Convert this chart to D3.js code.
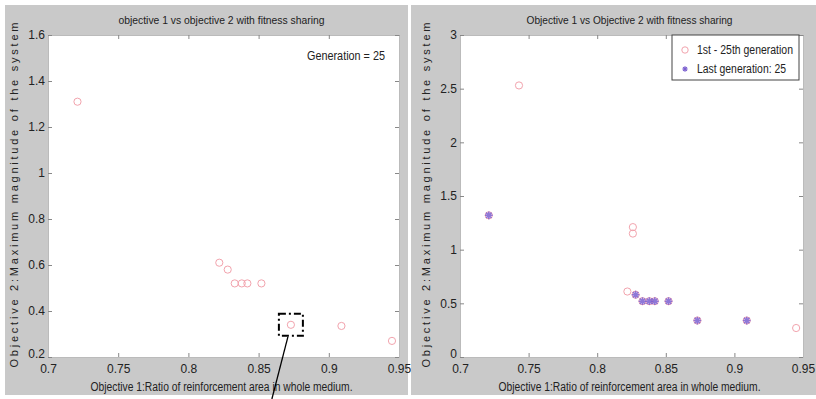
<!DOCTYPE html>
<html>
<head>
<meta charset="utf-8">
<script src="https://cdn.jsdelivr.net/npm/d3@7"></script>
<style>
  html, body { margin: 0; padding: 0; background: #fff; }
  svg { display: block; }
  text { font-family: "Liberation Sans", Arial, sans-serif; fill: #222; }
</style>
</head>
<body>
<svg id="chart" width="816" height="399"></svg>
<script>
// Population of generation 25 (objective 1, objective 2)
const genX = [0.721, 0.822, 0.828, 0.833, 0.838, 0.842, 0.852, 0.873, 0.909, 0.945];
const genY = [1.31, 0.61, 0.58, 0.52, 0.52, 0.52, 0.52, 0.34, 0.335, 0.27];

// All individuals from the 1st to the 25th generation
const allX = [0.721, 0.743, 0.826, 0.826, 0.822, 0.828, 0.833, 0.838, 0.842, 0.852, 0.873, 0.909, 0.945];
const allY = [1.32, 2.53, 1.21, 1.15, 0.61, 0.58, 0.52, 0.52, 0.52, 0.52, 0.34, 0.34, 0.27];

// Last generation
const lastX = [0.721, 0.828, 0.833, 0.838, 0.842, 0.852, 0.873, 0.909];
const lastY = [1.32, 0.58, 0.52, 0.52, 0.52, 0.52, 0.34, 0.34];

const xTicks = [0.7, 0.75, 0.8, 0.85, 0.9, 0.95];
const yTicksLeft = [0.2, 0.4, 0.6, 0.8, 1, 1.2, 1.4, 1.6];
const yTicksRight = [0, 0.5, 1, 1.5, 2, 2.5, 3];

const titleLeft = "objective 1 vs objective 2 with fitness sharing";
const titleRight = "Objective 1 vs Objective 2 with fitness sharing";
const xLabel = "Objective 1:Ratio of reinforcement area in whole medium.";
const yLabel = "Objective 2:Maximum magnitude of the system";
const legendLabels = ["1st - 25th generation", "Last generation: 25"];

const svg = d3.select("#chart");
const GRAY = "#c9c9c9";
const CIRCLE = "#f2a3ad";
const STAR = "#7b5fd0";
const NARROW = "'Liberation Sans Narrow', 'Liberation Sans', Arial, sans-serif";

// MATLAB-style asterisk marker
const asterisk = {
  draw(ctx, size) {
    const r = Math.sqrt(size) / 2;
    const d = r * Math.SQRT1_2;
    ctx.moveTo(-r, 0); ctx.lineTo(r, 0);
    ctx.moveTo(0, -r); ctx.lineTo(0, r);
    ctx.moveTo(-d, -d); ctx.lineTo(d, d);
    ctx.moveTo(-d, d); ctx.lineTo(d, -d);
  }
};

function fitText(sel, len, mode) {
  return sel.attr("textLength", len).attr("lengthAdjust", mode || "spacingAndGlyphs");
}

function panel(cfg) {
  const g = svg.append("g");
  g.append("rect")
    .attr("x", cfg.bg[0]).attr("y", 5)
    .attr("width", cfg.bg[1] - cfg.bg[0]).attr("height", 390)
    .attr("fill", GRAY);

  const x = d3.scaleLinear().domain([0.7, 0.95]).range([cfg.left, cfg.right]);
  const y = d3.scaleLinear().domain(cfg.yDomain).range([357, 35]);

  g.append("rect")
    .attr("x", cfg.left).attr("y", 35)
    .attr("width", cfg.right - cfg.left).attr("height", 322)
    .attr("fill", "#fff");

  const tickStyle = sel => {
    sel.select(".domain").attr("stroke", "#bbb");
    sel.selectAll(".tick line").attr("stroke", "#888");
    sel.selectAll(".tick text")
      .style("font-family", NARROW)
      .style("font-size", "12px").attr("fill", "#1a1a1a");
  };

  const fmt = d => String(+d.toFixed(2));

  g.append("g").attr("transform", "translate(0,357)")
    .call(d3.axisBottom(x).tickValues(xTicks).tickFormat(fmt).tickSizeInner(-4).tickSizeOuter(0).tickPadding(7))
    .call(tickStyle);
  g.append("g").attr("transform", "translate(0,35)")
    .call(d3.axisTop(x).tickValues(xTicks).tickFormat("").tickSizeInner(-4).tickSizeOuter(0))
    .call(tickStyle);
  g.append("g").attr("transform", `translate(${cfg.left},0)`)
    .call(d3.axisLeft(y).tickValues(cfg.yTicks).tickFormat(fmt).tickSizeInner(-4).tickSizeOuter(0).tickPadding(3))
    .call(tickStyle)
    // the lowest label sits a little above the corner, as in MATLAB's layout
    .call(a => a.selectAll(".tick text").filter(d => d === cfg.yDomain[0]).attr("dy", "0.05em"));
  g.append("g").attr("transform", `translate(${cfg.right},0)`)
    .call(d3.axisRight(y).tickValues(cfg.yTicks).tickFormat("").tickSizeInner(-4).tickSizeOuter(0))
    .call(tickStyle);

  const cx = (cfg.left + cfg.right) / 2 - 2;
  g.append("text").attr("x", cx).attr("y", 24).attr("text-anchor", "middle")
    .style("font-family", NARROW).style("font-size", "11px").text(cfg.title)
    .call(fitText, 206);
  g.append("text").attr("x", cx).attr("y", 391).attr("text-anchor", "middle")
    .style("font-family", NARROW).style("font-size", "12px").text(xLabel)
    .call(fitText, 262);
  g.append("text")
    .attr("transform", `translate(${cfg.left - 30},195) rotate(-90)`)
    .attr("text-anchor", "middle")
    .style("font-size", "11px")
    .text(yLabel)
    .call(fitText, 345, "spacing");

  return { g, x, y };
}

// Left: generation 25
const L = panel({ bg: [5, 408], left: 48, right: 399, yDomain: [0.2, 1.6], yTicks: yTicksLeft, title: titleLeft });
L.g.append("g").selectAll("circle").data(d3.range(genX.length)).join("circle")
  .attr("cx", i => L.x(genX[i])).attr("cy", i => L.y(genY[i])).attr("r", 3.6)
  .attr("fill", "none").attr("stroke", CIRCLE).attr("stroke-width", 1);
L.g.append("text").attr("x", 385).attr("y", 60).attr("text-anchor", "end")
  .style("font-family", NARROW).style("font-size", "12px").text("Generation = 25")
  .call(fitText, 78);

// Highlighted individual with pointer
const hx = L.x(genX[7]), hy = L.y(genY[7]);
L.g.append("rect").attr("x", hx - 12).attr("y", hy - 11).attr("width", 24).attr("height", 22)
  .attr("fill", "none").attr("stroke", "#000").attr("stroke-width", 2)
  .attr("stroke-dasharray", "7,3,2,3");
L.g.append("line").attr("x1", hx - 3).attr("y1", hy + 12).attr("x2", hx - 19).attr("y2", 399)
  .attr("stroke", "#000").attr("stroke-width", 1.3);

// Right: all generations and the last one
const R = panel({ bg: [411, 816], left: 460, right: 803, yDomain: [0, 3], yTicks: yTicksRight, title: titleRight });
R.g.append("g").selectAll("circle").data(d3.range(allX.length)).join("circle")
  .attr("cx", i => R.x(allX[i])).attr("cy", i => R.y(allY[i])).attr("r", 3.6)
  .attr("fill", "none").attr("stroke", CIRCLE).attr("stroke-width", 1);
R.g.append("g").selectAll("path").data(d3.range(lastX.length)).join("path")
  .attr("transform", i => `translate(${R.x(lastX[i])},${R.y(lastY[i])})`)
  .attr("d", d3.symbol(asterisk, 60))
  .attr("fill", "none").attr("stroke", STAR).attr("stroke-width", 1.6).attr("opacity", 0.85);

// Legend
const lg = R.g.append("g");
lg.append("rect").attr("x", 672).attr("y", 35).attr("width", 127).attr("height", 45)
  .attr("fill", "#fff").attr("stroke", "#444").attr("stroke-width", 1);
lg.append("circle").attr("cx", 685).attr("cy", 50).attr("r", 3.2)
  .attr("fill", "none").attr("stroke", CIRCLE);
lg.append("path").attr("transform", "translate(685,69)")
  .attr("d", d3.symbol(asterisk, 30)).attr("fill", "none").attr("stroke", STAR).attr("stroke-width", 1.2);
lg.selectAll("text.lab").data(legendLabels).join("text").attr("class", "lab")
  .attr("x", 697).attr("y", (d, i) => 54 + i * 19)
  .style("font-family", NARROW).style("font-size", "12px").text(d => d)
  .each(function (d, i) { d3.select(this).call(fitText, i === 0 ? 96 : 89); });
</script>
</body>
</html>
